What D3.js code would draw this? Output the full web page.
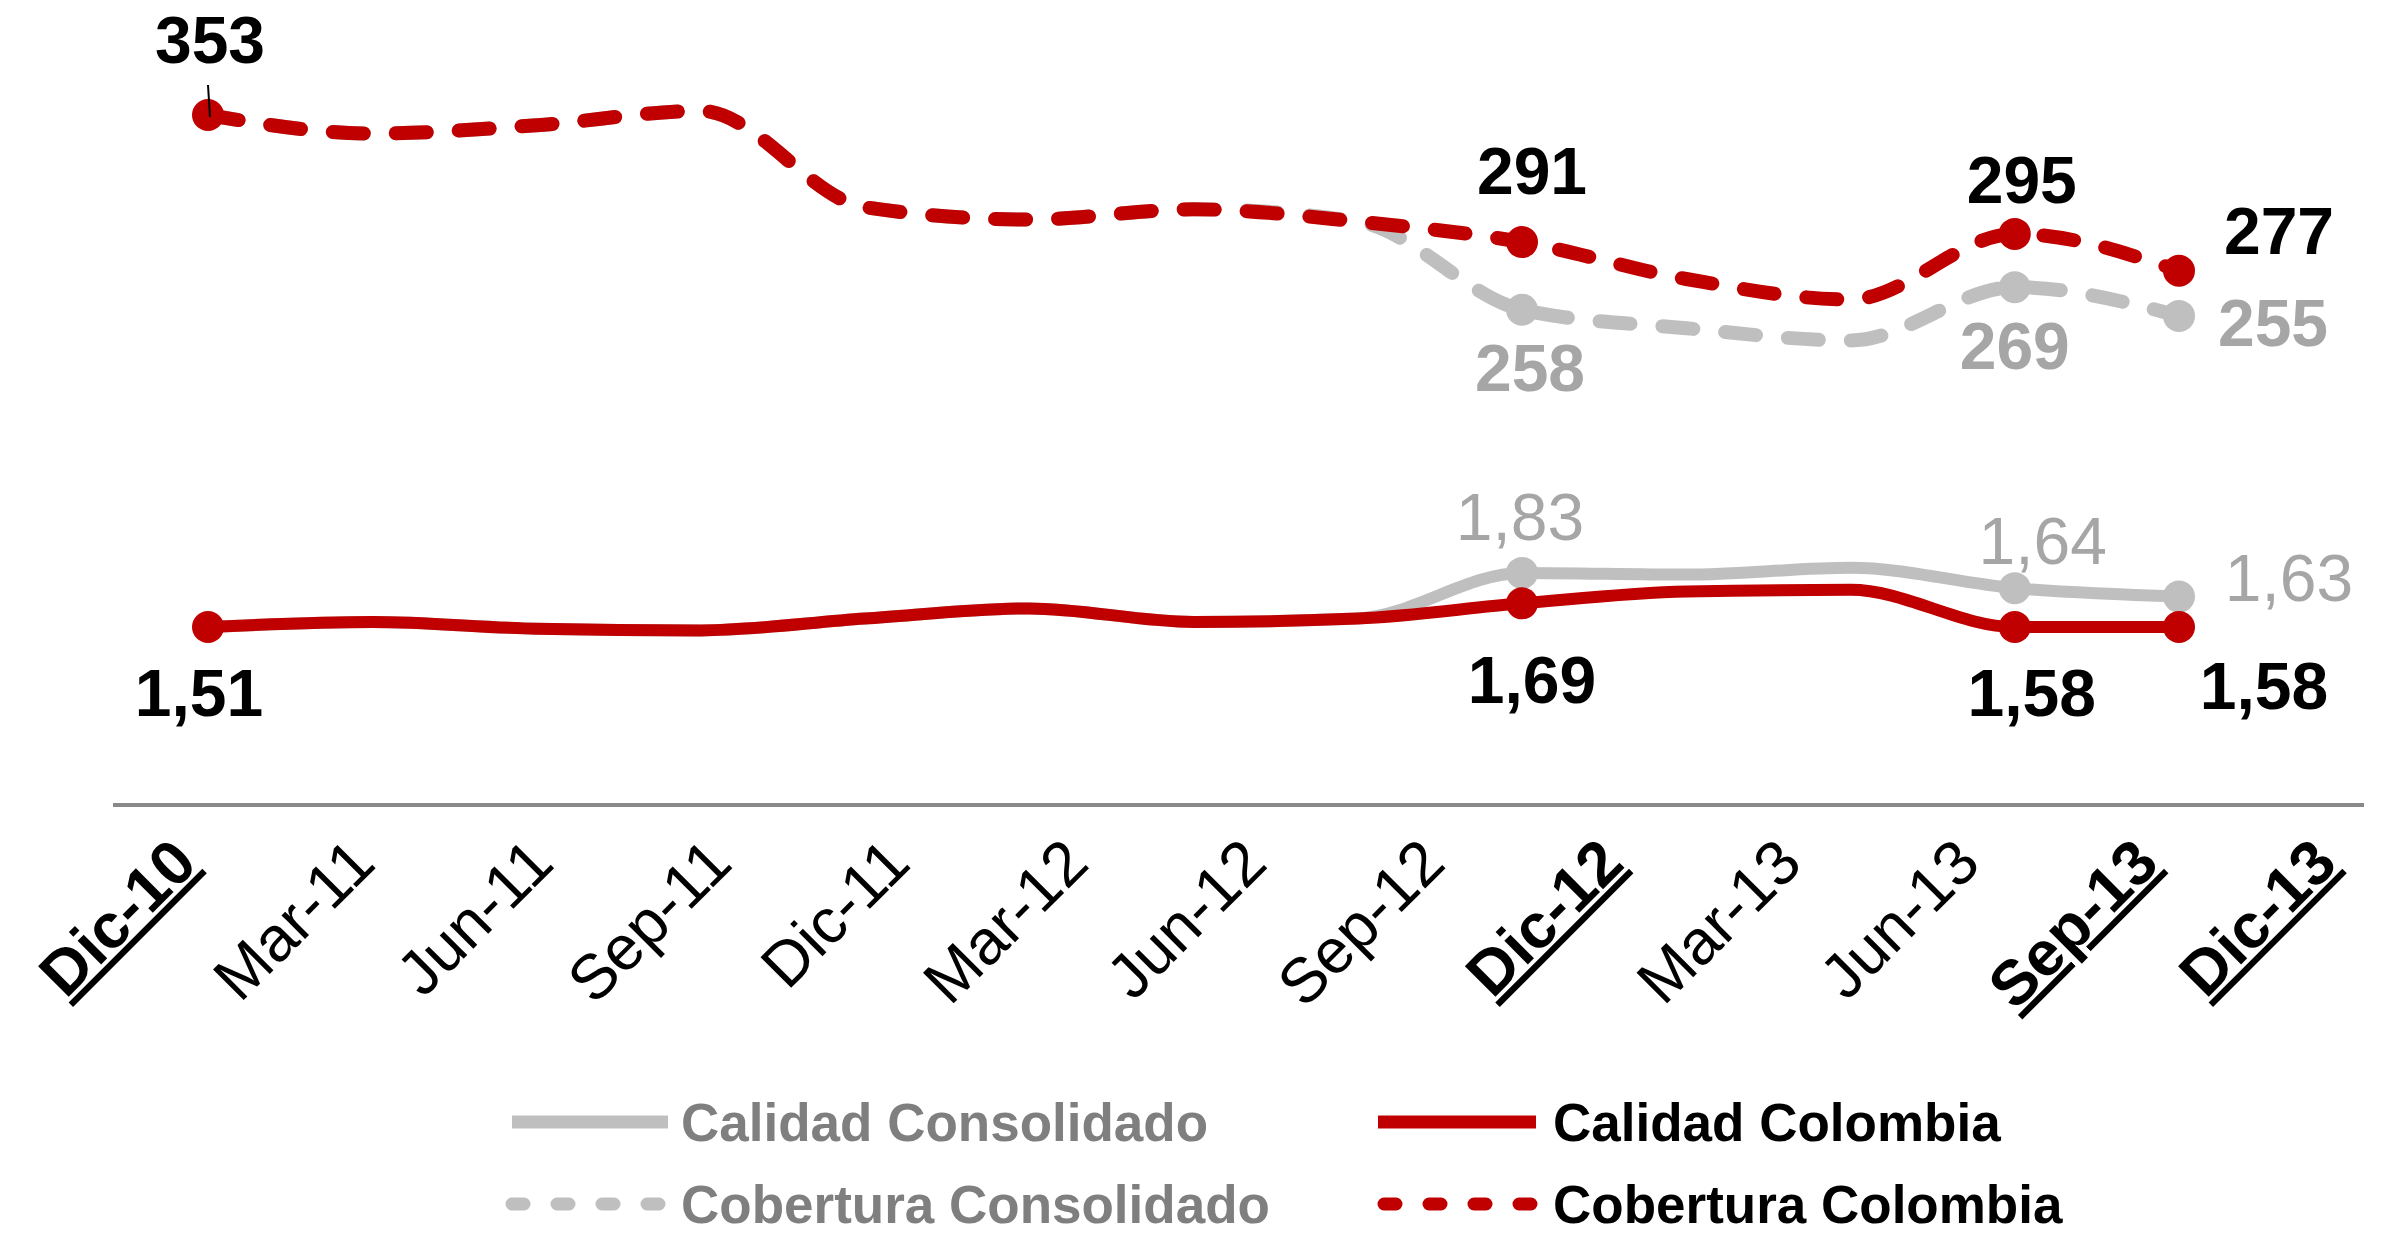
<!DOCTYPE html>
<html>
<head>
<meta charset="utf-8">
<script src="https://cdn.jsdelivr.net/npm/d3@7"></script>
<style>
  body { margin: 0; background: #fff; }
  svg { display: block; font-family: "Liberation Sans", Arial, sans-serif; }
</style>
</head>
<body>
<div id="chart"></div>
<script>
// ---- data ----
var categories = ["Dic-10","Mar-11","Jun-11","Sep-11","Dic-11","Mar-12","Jun-12","Sep-12","Dic-12","Mar-13","Jun-13","Sep-13","Dic-13"];
var highlighted = ["Dic-10","Dic-12","Sep-13","Dic-13"];

var coberturaColombia    = [353, 344, 348, 355, 308, 302, 307, 301, 291, 273, 263, 295, 277];
var coberturaConsolidado = [353, 344, 348, 355, 308, 302, 307, 301, 258, 249, 243, 269, 255];
var calidadColombia      = [1.51, 1.54, 1.50, 1.49, 1.56, 1.62, 1.54, 1.56, 1.65, 1.72, 1.73, 1.51, 1.51];
var calidadConsolidado   = [1.51, 1.54, 1.50, 1.49, 1.56, 1.62, 1.54, 1.56, 1.83, 1.82, 1.86, 1.74, 1.69];

// points that carry a marker and a label
var markIdx = [0, 8, 11, 12];
var cobColText = ["353", "291", "295", "277"];
var cobConText = [null, "258", "269", "255"];
var calColText = ["1,51", "1,69", "1,58", "1,58"];
var calConText = [null, "1,83", "1,64", "1,63"];

var legendNames = ["Calidad Consolidado", "Calidad Colombia", "Cobertura Consolidado", "Cobertura Colombia"];

// ---- layout ----
var width = 2386, height = 1234;
var RED = "#c00000", GREY = "#bfbfbf", GREY_TXT = "#a6a6a6";

var svg = d3.select("#chart").append("svg")
    .attr("width", width)
    .attr("height", height);

svg.append("rect").attr("width", width).attr("height", height).attr("fill", "#fff");

var x = d3.scalePoint().domain(categories).range([208, 2179]);
// category labels sit on their own spacing in the original
var xLab = d3.scalePoint().domain(categories).range([199, 2339]);

var yCob = d3.scaleLinear().domain([200, 353]).range([115 + 153 * 2.05, 115]);
var yCal = d3.scaleLinear().domain([1.4, 1.9]).range([627 + 0.11 * 169, 627 - 0.39 * 169]);

var lineCob = d3.line()
    .x(function(d, i) { return x(categories[i]); })
    .y(function(d) { return yCob(d); })
    .curve(d3.curveMonotoneX);

var lineCal = d3.line()
    .x(function(d, i) { return x(categories[i]); })
    .y(function(d) { return yCal(d); })
    .curve(d3.curveMonotoneX);

// axis line
svg.append("line")
    .attr("x1", 113).attr("x2", 2364)
    .attr("y1", 805).attr("y2", 805)
    .attr("stroke", "#898989")
    .attr("stroke-width", 4);

// category labels
var xAxis = d3.axisBottom(xLab).tickSize(0).tickPadding(0);
var gx = svg.append("g")
    .attr("transform", "translate(0,866)")
    .call(xAxis);
gx.select(".domain").remove();
gx.selectAll("text")
    .attr("x", 0).attr("y", 0).attr("dy", 0)
    .attr("text-anchor", "end")
    .attr("transform", "rotate(-45)")
    .attr("fill", "#000")
    .style("font-family", "'Liberation Sans', Arial, sans-serif")
    .style("font-size", "63px")
    .style("font-weight", function(d) { return highlighted.indexOf(d) >= 0 ? "bold" : "normal"; })
    .style("text-decoration", function(d) { return highlighted.indexOf(d) >= 0 ? "underline" : "none"; });

// series lines
svg.append("path").datum(coberturaConsolidado)
    .attr("d", lineCob).attr("fill", "none")
    .attr("stroke", GREY).attr("stroke-width", 14)
    .attr("stroke-linecap", "round").attr("stroke-dasharray", "31 32");

svg.append("path").datum(coberturaColombia)
    .attr("d", lineCob).attr("fill", "none")
    .attr("stroke", RED).attr("stroke-width", 14)
    .attr("stroke-linecap", "round").attr("stroke-dasharray", "31 32");

svg.append("path").datum(calidadConsolidado)
    .attr("d", lineCal).attr("fill", "none")
    .attr("stroke", GREY).attr("stroke-width", 12)
    .attr("stroke-linejoin", "round");

svg.append("path").datum(calidadColombia)
    .attr("d", lineCal).attr("fill", "none")
    .attr("stroke", RED).attr("stroke-width", 12)
    .attr("stroke-linejoin", "round");

// markers
function markers(values, yScale, color, idx) {
    svg.append("g").selectAll("circle")
        .data(idx).enter().append("circle")
        .attr("cx", function(i) { return x(categories[i]); })
        .attr("cy", function(i) { return yScale(values[i]); })
        .attr("r", 16)
        .attr("fill", color);
}
markers(coberturaConsolidado, yCob, GREY, markIdx.slice(1));
markers(coberturaColombia, yCob, RED, markIdx);
markers(calidadConsolidado, yCal, GREY, markIdx.slice(1));
markers(calidadColombia, yCal, RED, markIdx);

// leader for the first label
svg.append("line")
    .attr("x1", x(categories[0])).attr("y1", 85)
    .attr("x2", x(categories[0]) + 2).attr("y2", yCob(coberturaColombia[0]) + 2)
    .attr("stroke", "#000").attr("stroke-width", 2);

// data labels: offsets of the label centre from its point
var cobColOff = [[2, -76], [10, -72], [7, -55], [100, -41]];
var cobConOff = [null, [8, 57], [0, 58], [94, 6]];
var calColOff = [[-9, 65], [10, 76], [17, 65], [85, 58]];
var calConOff = [null, [-2, -57], [28, -48], [110, -19]];

function labels(values, yScale, texts, offs, color, weight) {
    var fs = 66;
    markIdx.forEach(function(i, k) {
        if (!texts[k]) return;
        svg.append("text")
            .attr("x", x(categories[i]) + offs[k][0])
            .attr("y", yScale(values[i]) + offs[k][1] + fs * 0.36)
            .attr("text-anchor", "middle")
            .attr("fill", color)
            .style("font-size", fs + "px")
            .style("font-weight", weight)
            .text(texts[k]);
    });
}
labels(coberturaColombia, yCob, cobColText, cobColOff, "#000", "bold");
labels(coberturaConsolidado, yCob, cobConText, cobConOff, GREY_TXT, "bold");
labels(calidadColombia, yCal, calColText, calColOff, "#000", "bold");
labels(calidadConsolidado, yCal, calConText, calConOff, GREY_TXT, "normal");

// legend
var legendItems = [
    {name: legendNames[0], color: GREY, text: "#7f7f7f", dash: null, x0: 512, x1: 668, tx: 681, y: 1122},
    {name: legendNames[1], color: RED,  text: "#000",    dash: null, x0: 1378, x1: 1536, tx: 1553, y: 1122},
    {name: legendNames[2], color: GREY, text: "#7f7f7f", dash: "12 33", x0: 512, x1: 668, tx: 681, y: 1204},
    {name: legendNames[3], color: RED,  text: "#000",    dash: "12 33", x0: 1384, x1: 1536, tx: 1553, y: 1204}
];

var legend = svg.selectAll(".legend")
    .data(legendItems).enter().append("g")
    .attr("class", "legend");

legend.append("line")
    .attr("x1", function(d) { return d.x0; })
    .attr("x2", function(d) { return d.x1; })
    .attr("y1", function(d) { return d.y; })
    .attr("y2", function(d) { return d.y; })
    .attr("stroke", function(d) { return d.color; })
    .attr("stroke-width", 13)
    .attr("stroke-linecap", function(d) { return d.dash ? "round" : "butt"; })
    .attr("stroke-dasharray", function(d) { return d.dash; });

legend.append("text")
    .attr("x", function(d) { return d.tx; })
    .attr("y", function(d) { return d.y + 19; })
    .attr("fill", function(d) { return d.text; })
    .style("font-size", "53px")
    .style("font-weight", "bold")
    .text(function(d) { return d.name; });
</script>
</body>
</html>
